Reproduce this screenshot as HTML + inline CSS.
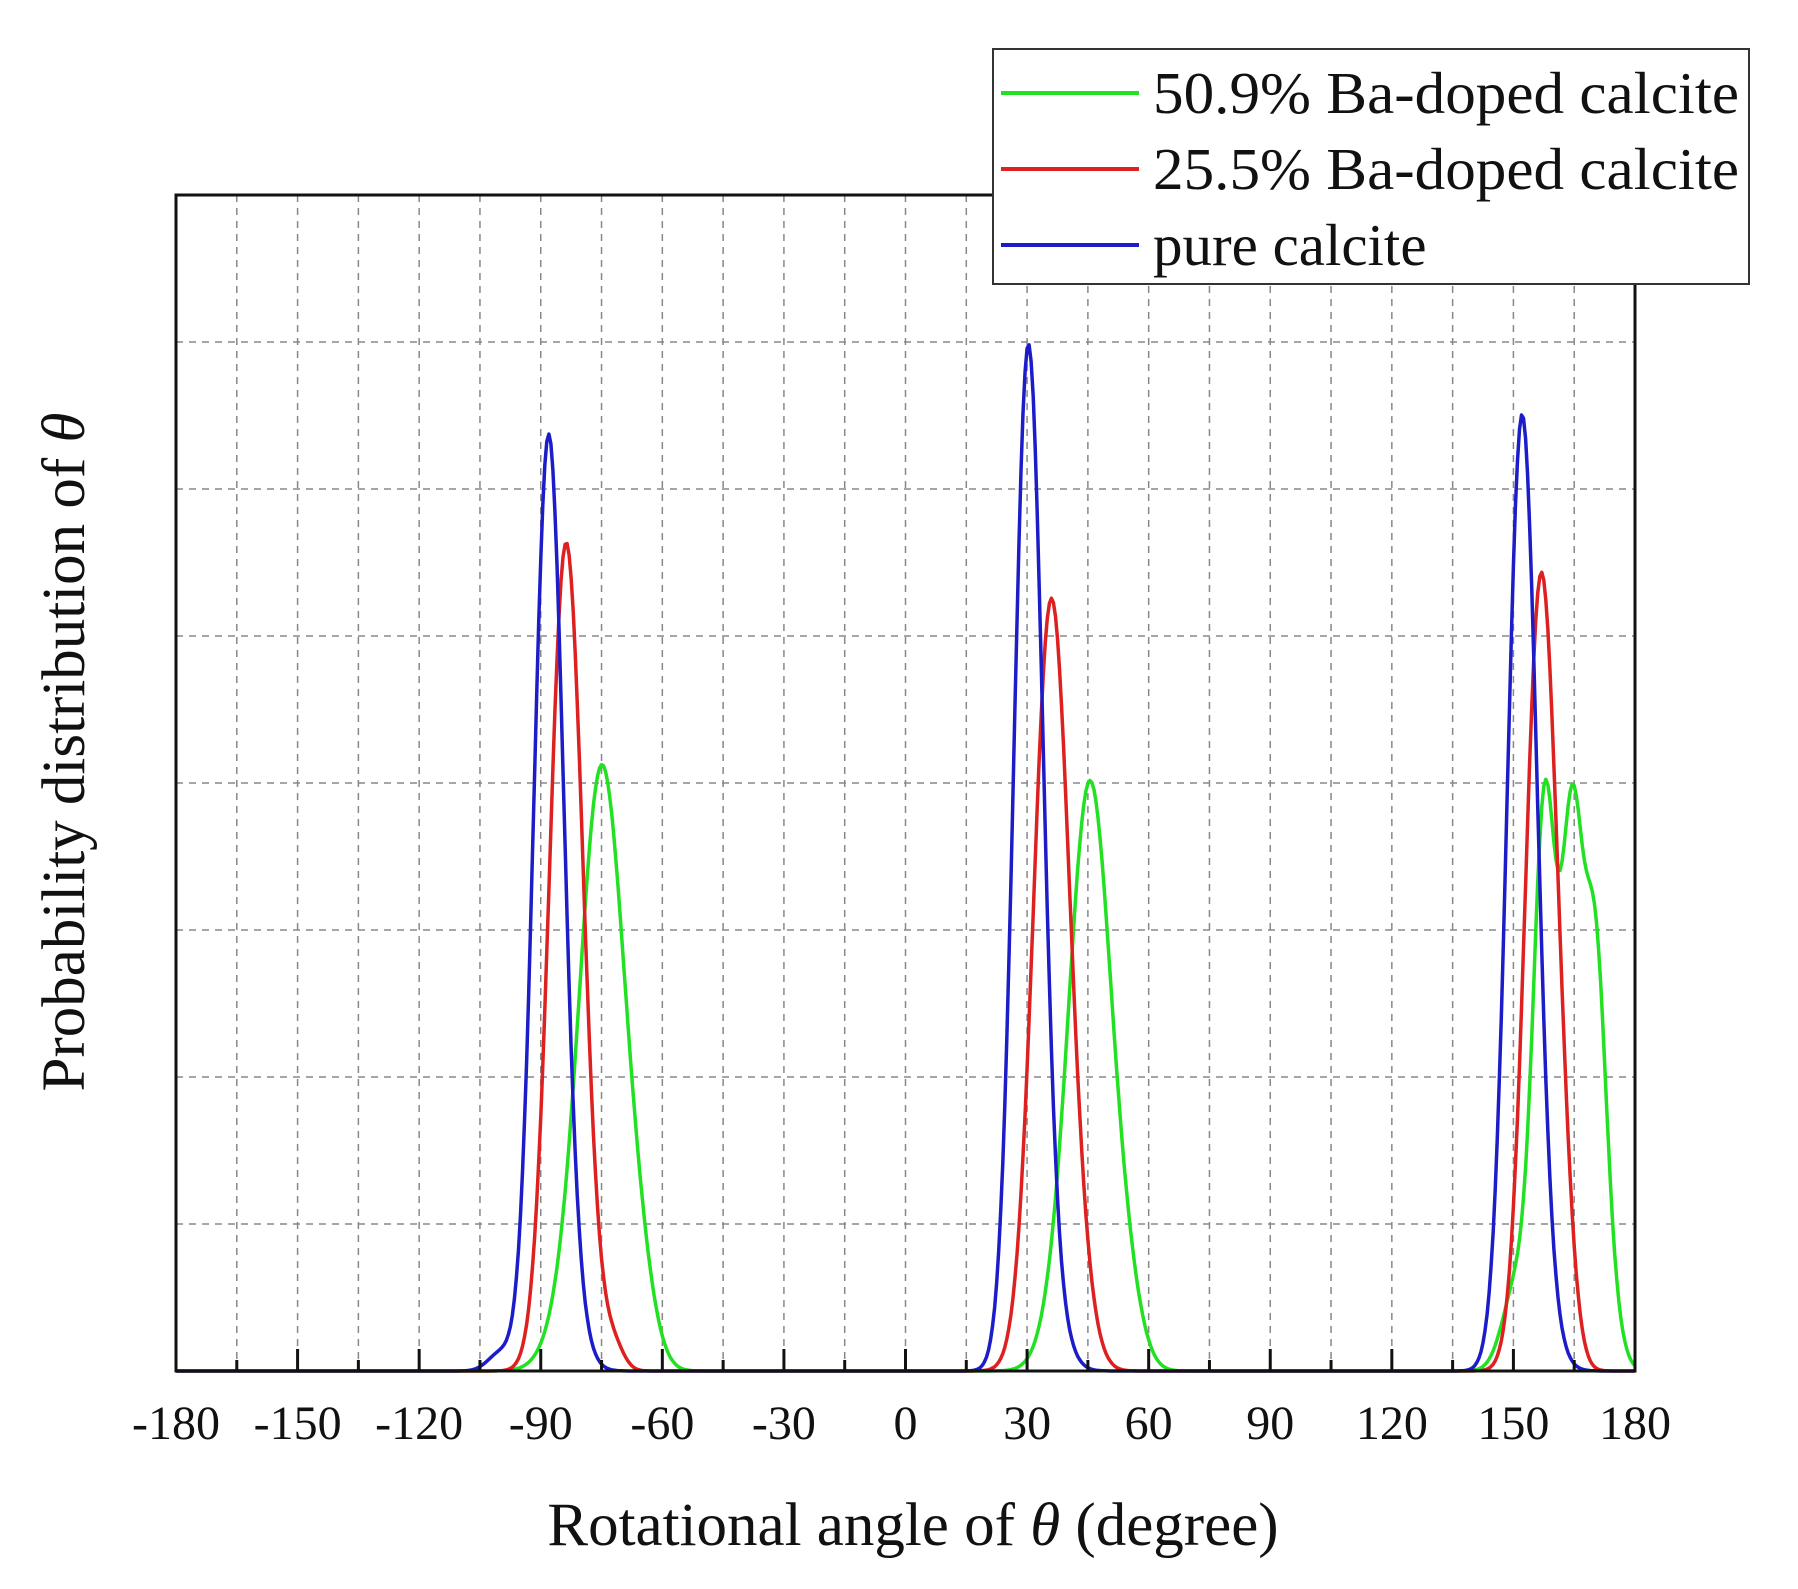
<!DOCTYPE html>
<html><head><meta charset="utf-8"><style>
html,body{margin:0;padding:0;background:#fff}
svg{display:block}
text{font-family:"Liberation Serif",serif;fill:#111}
</style></head><body>
<svg id="s" width="1798" height="1589" viewBox="0 0 1798 1589" xmlns="http://www.w3.org/2000/svg">
<g id="grid" stroke="#888" stroke-width="1.5" stroke-dasharray="7,6"></g>
<g id="curves" fill="none" stroke-width="3.5" stroke-linejoin="round"></g>
<rect x="176" y="195" width="1459" height="1176" fill="none" stroke="#111" stroke-width="3"/>
<g id="ticks" stroke="#111" stroke-width="3"></g>
<g id="labels" font-size="48" text-anchor="middle"></g>
<text x="913" y="1545" font-size="61" text-anchor="middle">Rotational angle of <tspan font-style="italic">θ</tspan> (degree)</text>
<text transform="translate(84,752) rotate(-90)" font-size="61" text-anchor="middle">Probability distribution of <tspan font-style="italic">θ</tspan></text>
<rect x="993" y="49" width="756" height="235" fill="#fff" stroke="#333" stroke-width="2"/>
<line x1="1001" y1="93" x2="1139" y2="93" stroke="#22e022" stroke-width="4"/>
<line x1="1001" y1="169" x2="1139" y2="169" stroke="#dd2020" stroke-width="4"/>
<line x1="1001" y1="245" x2="1139" y2="245" stroke="#1c1cc8" stroke-width="4"/>
<g font-size="59"><text x="1153" y="113" textLength="586" lengthAdjust="spacingAndGlyphs">50.9% Ba-doped calcite</text>
<text x="1153" y="189" textLength="586" lengthAdjust="spacingAndGlyphs">25.5% Ba-doped calcite</text>
<text x="1153" y="265">pure calcite</text></g>
</svg>
<script>
var NS="http://www.w3.org/2000/svg";
function X(a){return 176+(a+180)*1459/360;}
function Y(v){return 1371-v*147;}
function el(p,t,at){var e=document.createElementNS(NS,t);for(var k in at)e.setAttribute(k,at[k]);p.appendChild(e);return e;}
var g=document.getElementById('grid'),tk=document.getElementById('ticks'),lb=document.getElementById('labels');
for(var a=-165;a<180;a+=15){el(g,'line',{x1:X(a),y1:195,x2:X(a),y2:1371});
 var major=(a%30===0);el(tk,'line',{x1:X(a),y1:1371,x2:X(a),y2:1371-(major?22:11)});}
for(var i=1;i<8;i++){el(g,'line',{x1:176,y1:Y(i),x2:1635,y2:Y(i)});}
for(var a=-180;a<=180;a+=30){var t=el(lb,'text',{x:X(a),y:1439});t.textContent=a;}
var cv=document.getElementById('curves');
function multi(list,color){var d='';
 for(var a=-180;a<=180;a+=0.5){var v=0;list.forEach(function(c){var z=(a-c[0])/c[2];v+=c[1]*Math.exp(-0.5*z*z);});
  d+=(d?'L':'M')+X(a).toFixed(1)+','+Y(v).toFixed(1);}
 el(cv,'path',{d:d,stroke:color});}
multi([[-74.5,3.46,5.2],[-79,0.8,6],[-66,0.5,4],[46,3.45,4.8],[41,0.8,5],[54,0.5,4],
 [157.8,3.8,2.8],[164.5,3.5,2.6],[170,2.5,2.6],[151,0.6,3.5],[173,0.5,3]],'#22e022');
multi([[-84,5.26,4.0],[-80,0.6,4],[-72,0.15,2.5],[35.8,5.1,4.3],[42,0.5,4],[156.7,5.3,3.8],[162,0.6,3]],'#dd2020');
multi([[-88.2,6.08,3.6],[-84,0.5,4],[-100,0.12,3],[30.2,6.74,3.5],[35,0.5,4],[152,6.2,3.6],[156,0.5,4]],'#1c1cc8');
</script>
</body></html>
